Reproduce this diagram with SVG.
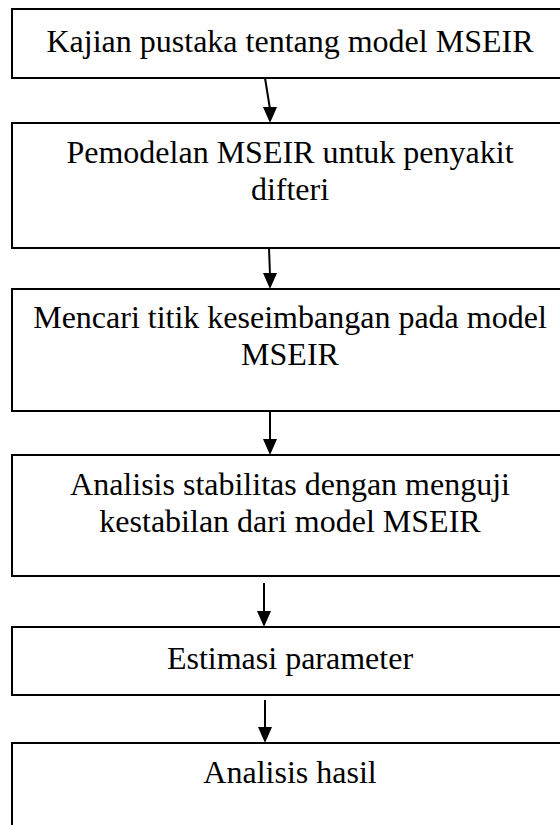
<svg xmlns="http://www.w3.org/2000/svg" width="560" height="825" viewBox="0 0 560 825">
<style>
.box{fill:#fff;stroke:#000;stroke-width:2}
.t{font-family:"Liberation Serif","Times New Roman",serif;font-size:32px;fill:#000;text-anchor:middle}
.c{stroke:#000;stroke-width:2;fill:none}
.ah{fill:#000}
</style>
<defs>
<path id="head" d="M-7,0 L7,0 L0,16 Z"/>
</defs>
<rect width="560" height="825" fill="#fff"/>
<g id="n1"><rect class="box" x="12" y="9" width="600" height="69"/><text class="t" x="290" y="52">Kajian pustaka tentang model MSEIR</text></g>
<g id="n2"><rect class="box" x="12" y="123" width="600" height="125"/><text class="t" x="290" y="163">Pemodelan MSEIR untuk penyakit</text><text class="t" x="290" y="200">difteri</text></g>
<g id="n3"><rect class="box" x="12" y="289" width="600" height="122"/><text class="t" x="290" y="328">Mencari titik keseimbangan pada model</text><text class="t" x="290" y="365">MSEIR</text></g>
<g id="n4"><rect class="box" x="12" y="455" width="600" height="121"/><text class="t" x="290" y="495">Analisis stabilitas dengan menguji</text><text class="t" x="290" y="532">kestabilan dari model MSEIR</text></g>
<g id="n5"><rect class="box" x="12" y="627" width="600" height="68"/><text class="t" x="290" y="669">Estimasi parameter</text></g>
<g id="n6"><rect class="box" x="12" y="743" width="600" height="120"/><text class="t" x="290" y="783">Analisis hasil</text></g>
<g id="connectors">
<line class="c" x1="265" y1="78" x2="270" y2="109"/>
<use href="#head" class="ah" x="270" y="107"/>
<line class="c" x1="269" y1="248" x2="270" y2="275"/>
<use href="#head" class="ah" x="270" y="273"/>
<line class="c" x1="270" y1="411" x2="270" y2="441"/>
<use href="#head" class="ah" x="270" y="439"/>
<line class="c" x1="264" y1="583" x2="264" y2="613"/>
<use href="#head" class="ah" x="264" y="611"/>
<line class="c" x1="265" y1="700" x2="265" y2="729"/>
<use href="#head" class="ah" x="265" y="727"/>
</g>
</svg>
